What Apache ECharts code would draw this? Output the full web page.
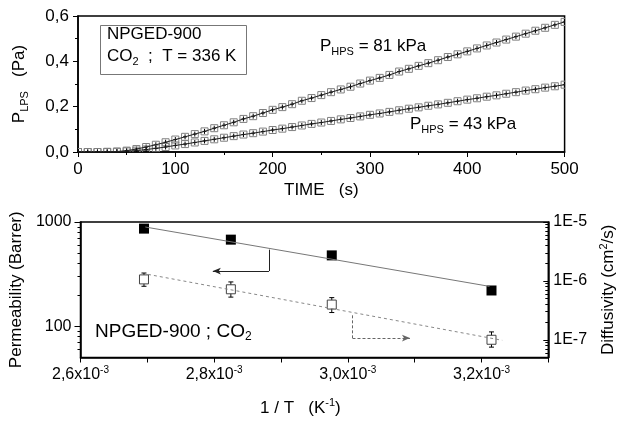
<!DOCTYPE html>
<html>
<head>
<meta charset="utf-8">
<script src="https://cdn.jsdelivr.net/npm/echarts@6/dist/echarts.min.js"></script>
<style>
  html, body { margin: 0; padding: 0; background: #fff; }
  #chart { width: 625px; height: 426px; }
</style>
</head>
<body>
<div id="chart"></div>
<script>
// top panel: pressure rise in the low pressure side
var time = [0, 10, 20, 30, 40, 50, 60, 70, 80, 90, 100, 110, 120, 130, 140, 150, 160, 170, 180, 190,
    200, 210, 220, 230, 240, 250, 260, 270, 280, 290, 300, 310, 320, 330, 340, 350, 360, 370, 380, 390,
    400, 410, 420, 430, 440, 450, 460, 470, 480, 490, 500];
var p81 = [0, 0, 0, 0.001, 0.002, 0.006, 0.013, 0.022, 0.032, 0.043, 0.055, 0.067, 0.079, 0.091, 0.105, 0.118, 0.131, 0.146, 0.158, 0.172,
    0.186, 0.198, 0.211, 0.226, 0.238, 0.251, 0.264, 0.276, 0.288, 0.302, 0.315, 0.327, 0.340, 0.355, 0.367, 0.380, 0.392, 0.405, 0.419, 0.431,
    0.444, 0.457, 0.470, 0.483, 0.496, 0.509, 0.522, 0.535, 0.548, 0.561, 0.574];
var p43 = [0, 0, 0, 0, 0.001, 0.003, 0.006, 0.011, 0.016, 0.022, 0.029, 0.035, 0.042, 0.049, 0.056, 0.063, 0.070, 0.077, 0.083, 0.090,
    0.097, 0.103, 0.110, 0.117, 0.124, 0.130, 0.137, 0.144, 0.150, 0.157, 0.164, 0.170, 0.177, 0.184, 0.191, 0.197, 0.204, 0.210, 0.217, 0.224,
    0.231, 0.237, 0.244, 0.250, 0.257, 0.264, 0.271, 0.277, 0.284, 0.290, 0.297];

// bottom panel: Arrhenius plot
var invT = [2.695e-3, 2.825e-3, 2.976e-3, 3.215e-3];
var permeability = [864, 677, 478, 220];
var diffusivity = [1.06e-6, 7.2e-7, 3.96e-7, 1.0e-7];
var diffLow = [8.1e-7, 5.3e-7, 2.9e-7, 7.5e-8];
var diffHigh = [1.36e-6, 9.6e-7, 5.2e-7, 1.36e-7];
var permFitX = [2.697e-3, 3.212e-3];
var permFitY = [895, 241];
var diffFitX = [2.701e-3, 3.231e-3];
var diffFitY = [1.29e-6, 9.8e-8];

// axis ticks
var permMajor = [100, 1000];
var permMinor = [60, 70, 80, 90, 200, 300, 400, 500, 600, 700, 800, 900];
var diffMajor = [1e-7, 1e-6, 1e-5];
var diffMinor = [6e-8, 7e-8, 8e-8, 9e-8, 2e-7, 3e-7, 4e-7, 5e-7, 6e-7, 7e-7, 8e-7, 9e-7,
    2e-6, 3e-6, 4e-6, 5e-6, 6e-6, 7e-6, 8e-6, 9e-6];

var FONT = 'Liberation Sans, Arial, sans-serif';

function pairs(xs, ys) {
    return xs.map(function (x, i) { return [x, ys[i]]; });
}

function renderCross(params, api) {
    var p = api.coord([api.value(0), api.value(1)]);
    var h = 3.5;
    return {
        type: 'group',
        children: [
            { type: 'rect', shape: { x: p[0] - h, y: p[1] - h, width: 2 * h, height: 2 * h },
              style: { fill: 'rgba(255,255,255,0)', stroke: '#808080', lineWidth: 1 } },
            { type: 'line', shape: { x1: p[0] - 2, y1: p[1], x2: p[0] + 2, y2: p[1] },
              style: { stroke: '#000', lineWidth: 1 } },
            { type: 'line', shape: { x1: p[0], y1: p[1] - 2.5, x2: p[0], y2: p[1] + 2.5 },
              style: { stroke: '#000', lineWidth: 1 } }
        ]
    };
}

function renderErrorBar(params, api) {
    var lo = api.coord([api.value(0), api.value(1)]);
    var hi = api.coord([api.value(0), api.value(2)]);
    var w = 2.5;
    var st = { stroke: '#000', lineWidth: 1 };
    return {
        type: 'group',
        children: [
            { type: 'line', shape: { x1: lo[0], y1: lo[1], x2: hi[0], y2: hi[1] }, style: st },
            { type: 'line', shape: { x1: lo[0] - w, y1: lo[1], x2: lo[0] + w, y2: lo[1] }, style: st },
            { type: 'line', shape: { x1: hi[0] - w, y1: hi[1], x2: hi[0] + w, y2: hi[1] }, style: st }
        ]
    };
}

var axisLine = { lineStyle: { color: '#000', width: 1.5 } };
var tickStyle = { color: '#000', width: 1 };

var subRich = {
    a: { fontSize: 17, fontFamily: FONT, color: '#000' },
    s: { fontSize: 11, fontFamily: FONT, color: '#000', padding: [10, 0, 0, 0] },
    u: { fontSize: 11, fontFamily: FONT, color: '#000', padding: [0, 0, 10, 0] }
};

var textRich = {
    a: { fontSize: 17, fontFamily: FONT, fill: '#000' },
    s: { fontSize: 11, fontFamily: FONT, fill: '#000', padding: [10, 0, 0, 0] }
};

var myChart = echarts.init(document.getElementById('chart'));

var option = {
    animation: false,
    backgroundColor: '#fff',
    grid: [
        { left: 78, top: 16, width: 486.6, height: 136, show: true, borderColor: '#000', borderWidth: 1.5 },
        { left: 78, top: 222, width: 486.6, height: 135.5, show: true, borderColor: '#000', borderWidth: 1.5 }
    ],
    xAxis: [
        {
            type: 'value', gridIndex: 0, min: 0, max: 500, interval: 100,
            name: 'TIME   (s)', nameLocation: 'middle', nameGap: 30,
            nameTextStyle: { fontSize: 17, fontFamily: FONT, color: '#000' },
            axisLine: axisLine,
            axisTick: { length: 5, lineStyle: tickStyle },
            minorTick: { show: true, splitNumber: 2, length: 3, lineStyle: tickStyle },
            axisLabel: { fontSize: 17, fontFamily: FONT, color: '#000', margin: 9 },
            splitLine: { show: false }
        },
        {
            type: 'value', gridIndex: 1, min: 0.0026, max: 0.0033, interval: 0.0002,
            name: '{a|1 / T   (K}{u|-1}{a|)}', nameLocation: 'middle', nameGap: 40,
            nameTextStyle: { rich: subRich, padding: [0, 28, 0, 0] },
            axisLine: axisLine,
            axisTick: { length: 5, lineStyle: tickStyle },
            minorTick: { show: true, splitNumber: 2, length: 5, lineStyle: tickStyle },
            axisLabel: {
                margin: 8,
                formatter: function (v) {
                    if (v > 0.00325) return '';
                    return '{b|' + (v * 1000).toFixed(1).replace('.', ',') + 'x10}{u|-3}';
                },
                rich: {
                    b: { fontSize: 16, fontFamily: FONT, color: '#000' },
                    u: { fontSize: 10, fontFamily: FONT, color: '#000', padding: [0, 0, 9, 0] }
                }
            },
            splitLine: { show: false }
        }
    ],
    yAxis: [
        {
            type: 'value', gridIndex: 0, min: 0, max: 0.6, interval: 0.2,
            name: '{a|P}{s|LPS}{a|   (Pa)}', nameLocation: 'middle', nameGap: 48, nameRotate: 90,
            nameTextStyle: { rich: subRich },
            axisLine: axisLine,
            axisTick: { length: 5, lineStyle: tickStyle },
            minorTick: { show: true, splitNumber: 2, length: 3, lineStyle: tickStyle },
            axisLabel: {
                fontSize: 17, fontFamily: FONT, color: '#000', margin: 9,
                formatter: function (v) { return v.toFixed(1).replace('.', ','); }
            },
            splitLine: { show: false }
        },
        {
            type: 'log', gridIndex: 1, logBase: 10, min: 50, max: 1000, position: 'left',
            name: 'Permeability (Barrer)', nameLocation: 'middle', nameGap: 46, nameRotate: 90,
            nameTextStyle: { fontSize: 17, fontFamily: FONT, color: '#000' },
            axisLine: axisLine,
            axisTick: { length: 6, lineStyle: tickStyle, customValues: permMajor },
            axisLabel: {
                fontSize: 16, fontFamily: FONT, color: '#000', margin: 9, customValues: permMajor,
                formatter: function (v) { return String(Math.round(v)); }
            },
            splitLine: { show: false }
        },
        {
            type: 'log', gridIndex: 1, logBase: 10, min: 50, max: 1000, position: 'left', offset: 0,
            axisLine: { show: false },
            axisTick: { length: 3, lineStyle: tickStyle, customValues: permMinor },
            axisLabel: { show: false },
            splitLine: { show: false }
        },
        {
            type: 'log', gridIndex: 1, logBase: 10, min: 5e-8, max: 1e-5, position: 'right', offset: 0,
            name: '{a|Diffusivity (cm}{u|2}{a|/s)}', nameLocation: 'middle', nameGap: 40, nameRotate: 90,
            nameTextStyle: { rich: subRich },
            axisLine: axisLine,
            axisTick: { inside: true, length: 5, lineStyle: tickStyle, customValues: diffMajor },
            axisLabel: {
                fontSize: 16, fontFamily: FONT, color: '#000', margin: 5, customValues: diffMajor,
                formatter: function (v) { return '1E' + Math.round(Math.log(v) / Math.LN10); }
            },
            splitLine: { show: false }
        },
        {
            type: 'log', gridIndex: 1, logBase: 10, min: 5e-8, max: 1e-5, position: 'right', offset: 0,
            axisLine: { show: false },
            axisTick: { inside: true, length: 3, lineStyle: tickStyle, customValues: diffMinor },
            axisLabel: { show: false },
            splitLine: { show: false }
        }
    ],
    series: [
        {
            type: 'line', xAxisIndex: 0, yAxisIndex: 0, data: pairs(time, p81),
            showSymbol: false, lineStyle: { color: '#222', width: 1 }
        },
        {
            type: 'line', xAxisIndex: 0, yAxisIndex: 0, data: pairs(time, p43),
            showSymbol: false, lineStyle: { color: '#222', width: 1 }
        },
        { type: 'custom', xAxisIndex: 0, yAxisIndex: 0, clip: true, renderItem: renderCross, data: pairs(time, p81) },
        { type: 'custom', xAxisIndex: 0, yAxisIndex: 0, clip: true, renderItem: renderCross, data: pairs(time, p43) },
        {
            type: 'line', xAxisIndex: 1, yAxisIndex: 1, data: pairs(permFitX, permFitY),
            showSymbol: false, lineStyle: { color: '#777', width: 1 },
            markLine: {
                silent: true, animation: false, symbol: ['none', 'arrow'], symbolSize: [5, 8],
                label: { show: false },
                lineStyle: { color: '#222', width: 1, type: 'solid' },
                data: [
                    [{ coord: [2.882e-3, 543], symbol: 'none' }, { coord: [2.882e-3, 338], symbol: 'none' }],
                    [{ coord: [2.882e-3, 338] }, { coord: [2.798e-3, 338] }]
                ]
            }
        },
        {
            type: 'scatter', xAxisIndex: 1, yAxisIndex: 1, data: pairs(invT, permeability),
            symbol: 'rect', symbolSize: 10, itemStyle: { color: '#000', opacity: 1 }
        },
        {
            type: 'line', xAxisIndex: 1, yAxisIndex: 3, data: pairs(diffFitX, diffFitY),
            showSymbol: false, lineStyle: { color: '#888', width: 1, type: [3, 3] },
            markLine: {
                silent: true, animation: false, symbol: ['none', 'arrow'], symbolSize: [5, 8],
                label: { show: false },
                lineStyle: { color: '#666', width: 1, type: [3, 2] },
                data: [
                    [{ coord: [3.007e-3, 2.6e-7], symbol: 'none' }, { coord: [3.007e-3, 1.07e-7], symbol: 'none' }],
                    [{ coord: [3.007e-3, 1.07e-7] }, { coord: [3.093e-3, 1.07e-7] }]
                ]
            }
        },
        {
            type: 'custom', xAxisIndex: 1, yAxisIndex: 3, renderItem: renderErrorBar,
            data: invT.map(function (x, i) { return [x, diffLow[i], diffHigh[i]]; })
        },
        {
            type: 'scatter', xAxisIndex: 1, yAxisIndex: 3, data: pairs(invT, diffusivity),
            symbol: 'rect', symbolSize: 9, itemStyle: { color: '#fff', borderColor: '#444', borderWidth: 1, opacity: 1 }
        }
    ],
    graphic: [
        {
            type: 'rect', left: 98, top: 23, shape: { width: 146, height: 49 },
            style: { fill: 'none', stroke: '#777', lineWidth: 1 }
        },
        {
            type: 'text', left: 107, top: 26,
            style: { text: 'NPGED-900', fontSize: 17, fontFamily: FONT, fill: '#000' }
        },
        {
            type: 'text', left: 107, top: 48,
            style: { text: '{a|CO}{s|2}{a|  ;  T = 336 K}', rich: textRich }
        },
        {
            type: 'text', left: 320, top: 38,
            style: { text: '{a|P}{s|HPS}{a| = 81 kPa}', rich: textRich }
        },
        {
            type: 'text', left: 410, top: 116,
            style: { text: '{a|P}{s|HPS}{a| = 43 kPa}', rich: textRich }
        },
        {
            type: 'text', left: 95, top: 322,
            style: {
                text: '{a|NPGED-900 ; CO}{s|2}',
                rich: {
                    a: { fontSize: 19, fontFamily: FONT, fill: '#000' },
                    s: { fontSize: 12, fontFamily: FONT, fill: '#000', padding: [11, 0, 0, 0] }
                }
            }
        }
    ]
};

myChart.setOption(option);
</script>
</body>
</html>
